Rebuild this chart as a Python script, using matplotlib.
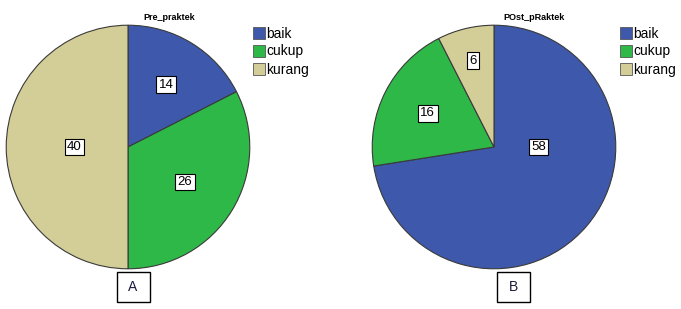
import matplotlib
matplotlib.use("Agg")
import matplotlib.pyplot as plt
import numpy as np

categories = ["baik", "cukup", "kurang"]
pre_values = [14, 26, 40]
post_values = [58, 16, 6]
titles = ["Pre_praktek", "POst_pRaktek"]
panel_labels = ["A", "B"]
colors = ["#3E58AC", "#2EB848", "#D3CE97"]

W, H = 681, 309
fig = plt.figure(figsize=(W / 100, H / 100), dpi=100)

def px_axes(x0, y0, x1, y1):
    return fig.add_axes([x0 / W, 1 - y1 / H, (x1 - x0) / W, (y1 - y0) / H])

panels = [
    dict(vals=pre_values, box=(5, 24, 251, 270), title_xy=(169, 17),
         label_r=[0.6, 0.55, 0.44], label_ang=[None, None, None],
         leg=(253, 27), plab=(133, 287)),
    dict(vals=post_values, box=(371, 24, 617, 270), title_xy=(534, 17),
         label_r=[0.366, 0.61, 0.73], label_ang=[90, None, None],
         leg=(620, 27), plab=(513, 287)),
]

for i, p in enumerate(panels):
    ax = px_axes(*p["box"])
    ax.pie(p["vals"], colors=colors, startangle=90, counterclock=False,
           wedgeprops=dict(edgecolor="#3a3a3a", linewidth=0.8), radius=1)
    ax.set_xlim(-1.01, 1.01)
    ax.set_ylim(-1.01, 1.01)
    ax.set_aspect("equal")
    ax.axis("off")
    total = sum(p["vals"])
    start = 0.0  # degrees clockwise from top
    for v, r, a in zip(p["vals"], p["label_r"], p["label_ang"]):
        mid = start + v / total * 360 / 2
        start += v / total * 360
        ang = mid if a is None else a
        x = r * np.sin(np.radians(ang))
        y = r * np.cos(np.radians(ang))
        ax.text(x, y, str(v), ha="center", va="center", fontsize=9.5,
                family="Liberation Sans",
                bbox=dict(boxstyle="square,pad=0.18", fc="white", ec="black", lw=0.8))
    fig.text(p["title_xy"][0] / W, 1 - p["title_xy"][1] / H, titles[i],
             ha="center", va="center", fontsize=6.5, fontweight="bold",
             family="Liberation Sans")
    lx, ly = p["leg"]
    for k, (c, name) in enumerate(zip(colors, categories)):
        y = ly + k * 18
        fig.patches.append(plt.Rectangle((lx / W, 1 - (y + 12) / H), 12 / W, 12 / H,
                                         transform=fig.transFigure, fc=c, ec="#555555", lw=0.6))
        fig.text((lx + 13) / W, 1 - (y + 6.5) / H, name, ha="left", va="center",
                 fontsize=10, family="Liberation Sans")
    cx, cy = p["plab"]
    fig.patches.append(plt.Rectangle(((cx - 16) / W, 1 - (cy + 15) / H), 33 / W, 30 / H,
                                     transform=fig.transFigure, fc="white", ec="black", lw=1))
    fig.text(cx / W, 1 - cy / H, panel_labels[i], ha="center", va="center",
             fontsize=10, family="Liberation Sans", color="#1a1a40")

fig.savefig("out.png", dpi=100, facecolor="white")
